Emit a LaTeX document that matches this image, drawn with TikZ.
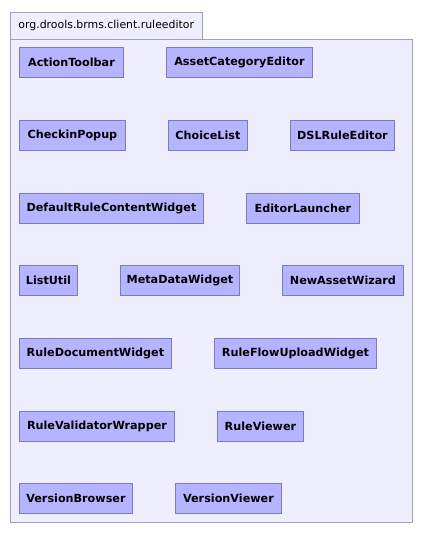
\documentclass[tikz,border=0pt]{standalone}
\usepackage{fontspec}
\setmainfont{DejaVu Sans}
\usepackage{tikz}
\usetikzlibrary{positioning}

\definecolor{pkgfill}{RGB}{238,238,252}
\definecolor{pkgline}{RGB}{160,160,188}
\definecolor{clsfill}{RGB}{180,180,255}
\definecolor{clsline}{RGB}{122,122,190}

\begin{document}
\begin{tikzpicture}[x=1pt, y=-1pt,
    pkg/.style={draw=pkgline, fill=pkgfill, line width=0.9pt},
    cls/.style={draw=clsline, fill=clsfill, line width=0.9pt, anchor=north west,
        minimum width=#1, minimum height=30pt, inner xsep=4pt, inner ysep=0pt,
        font=\bfseries\fontsize{11.2}{13}\selectfont}]
    \useasboundingbox (0,0) rectangle (423,536);

    % Paquete
    \node[pkg, anchor=north west, minimum width=192pt, minimum height=27pt, inner xsep=8pt,
        text width=176pt, align=left, font=\fontsize{10.9}{13}\selectfont] (tab) at (10,12) {org.drools.brms.client.ruleeditor};
    \draw[pkg] (10,39) rectangle (412,522);

    % Clases
    \node[cls=104pt] (actiontoolbar) at (19,47) {ActionToolbar};
    \node[cls=146pt] (assetcategoryeditor) at (166,47) {AssetCategoryEditor};

    \node[cls=106pt] (checkinpopup) at (19,120) {CheckinPopup};
    \node[cls=79pt] (choicelist) at (168,120) {ChoiceList};
    \node[cls=104pt] (dslruleeditor) at (290,120) {DSLRuleEditor};

    \node[cls=184pt] (defaultrulecontentwidget) at (19,193) {DefaultRuleContentWidget};
    \node[cls=113pt] (editorlauncher) at (246,193) {EditorLauncher};

    \node[cls=58pt] (listutil) at (19,265) {ListUtil};
    \node[cls=119pt] (metadatawidget) at (120,265) {MetaDataWidget};
    \node[cls=121pt] (newassetwizard) at (282,265) {NewAssetWizard};

    \node[cls=152pt] (ruledocumentwidget) at (19,338) {RuleDocumentWidget};
    \node[cls=162pt] (ruleflowuploadwidget) at (214,338) {RuleFlowUploadWidget};

    \node[cls=155pt] (rulevalidatorwrapper) at (19,411) {RuleValidatorWrapper};
    \node[cls=86pt] (ruleviewer) at (217,411) {RuleViewer};

    \node[cls=113pt] (versionbrowser) at (19,483) {VersionBrowser};
    \node[cls=106pt] (versionviewer) at (175,483) {VersionViewer};
\end{tikzpicture}
\end{document}
